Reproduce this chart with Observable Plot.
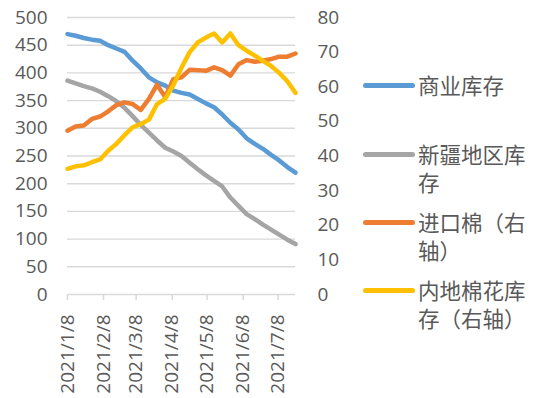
<!DOCTYPE html>
<html>
<head>
<meta charset="utf-8">
<script src="https://cdn.jsdelivr.net/npm/d3@7"></script>
<script src="https://cdn.jsdelivr.net/npm/@observablehq/plot@0.6"></script>
<style>
  html, body { margin: 0; padding: 0; background: #fff; }
  #wrap { position: relative; width: 550px; height: 398px; overflow: hidden; }
  #chart { position: absolute; left: 0; top: 0; }
  .leg { position: absolute; left: 363px; display: flex; align-items: flex-start; }
  .leg .sw { width: 52px; height: 5px; border-radius: 3px; margin-top: 12px; flex: none; }
  .leg .tx { margin-left: 3px; width: 116px; font-family: "Noto Sans CJK SC", sans-serif; font-size: 21.5px; line-height: 28px; color: #595959; word-break: break-all; }
</style>
</head>
<body>
<div id="wrap">
  <div id="chart"></div>
  <div id="legend"></div>
</div>
<script>
// Weekly dates
const dates = ["2021-01-08","2021-01-15","2021-01-22","2021-01-29","2021-02-05","2021-02-12","2021-02-19","2021-02-26",
  "2021-03-05","2021-03-12","2021-03-19","2021-03-26","2021-04-02","2021-04-09","2021-04-16","2021-04-23","2021-04-30",
  "2021-05-07","2021-05-14","2021-05-21","2021-05-28","2021-06-04","2021-06-11","2021-06-18","2021-06-25",
  "2021-07-02","2021-07-09","2021-07-16","2021-07-23"];
// 商业库存 (left axis)
const commercial = [470,467,463,460,458,450,444,438,422,408,392,383,377,368,364,361,353,345,338,325,310,298,282,272,263,252,242,230,220];
// 新疆地区库存 (left axis)
const xinjiang = [386,381,376,372,366,358,349,337,322,306,292,278,265,258,250,238,226,215,205,195,175,160,145,136,126,117,108,99,91];
// 进口棉 (right axis)
const imported = [47.3,48.5,48.8,50.7,51.4,52.9,54.7,55.5,55.0,53.3,56.5,60.6,57.0,62.2,62.7,64.9,64.8,64.6,65.6,64.8,63.2,66.5,67.7,67.2,67.5,68.0,68.7,68.7,69.6];
// 内地棉花库存 (right axis)
const inland = [36.3,37.0,37.3,38.2,39.0,41.5,43.5,46.0,48.3,49.2,50.5,55.0,56.5,60.5,65.5,70.0,72.8,74.2,75.4,72.8,75.4,72.0,70.4,69.0,67.5,66.0,64.0,61.6,58.2];

const seriesNames = ["商业库存","新疆地区库存","进口棉（右轴）","内地棉花库存（右轴）"];
const seriesColors = ["#5B9BD5","#A5A5A5","#ED7D31","#FFC000"];
const leftTicks = [0,50,100,150,200,250,300,350,400,450,500];
const rightTicks = [0,10,20,30,40,50,60,70,80];
const xTickDates = ["2021-01-08","2021-02-08","2021-03-08","2021-04-08","2021-05-08","2021-06-08","2021-07-08"];
const xTickLabels = ["2021/1/8","2021/2/8","2021/3/8","2021/4/8","2021/5/8","2021/6/8","2021/7/8"];

const ratio = 500 / 80; // right axis mapped onto left
const parse = d3.utcParse("%Y-%m-%d");
const dd = dates.map(parse);
const rows = [];
const seriesVals = [commercial, xinjiang, imported, inland];
seriesVals.forEach((vals, k) => {
  vals.forEach((v, i) => rows.push({date: dd[i], value: k >= 2 ? v * ratio : v, s: seriesNames[k]}));
});
const tickD = xTickDates.map(parse);
const labelOf = new Map(tickD.map((d, i) => [+d, xTickLabels[i]]));

const font = "'Open Sans', sans-serif";
const chart = Plot.plot({
  width: 360,
  height: 398,
  marginLeft: 67,
  marginRight: 65,
  marginTop: 17,
  marginBottom: 104,
  style: {fontFamily: font, fontSize: "19px", color: "#595959", background: "transparent"},
  x: {type: "utc", domain: [dd[0], dd[dd.length - 1]]},
  y: {domain: [0, 500]},
  color: {domain: seriesNames, range: seriesColors},
  marks: [
    Plot.ruleY(leftTicks.slice(1), {stroke: "#d9d9d9", strokeWidth: 1.4}),
    Plot.ruleY([0], {stroke: "#d9d9d9", strokeWidth: 1.6}),
    Plot.axisY({anchor: "left", ticks: leftTicks, tickSize: 0, tickPadding: 20, label: null, fill: "#595959"}),
    Plot.axisY({anchor: "right", ticks: rightTicks.map(t => t * ratio), tickFormat: d => String(Math.round(d / ratio)), tickSize: 0, tickPadding: 22, label: null, fill: "#595959"}),
    Plot.axisX({ticks: tickD, tickFormat: d => labelOf.get(+d), tickSize: 6, tickPadding: 14, tickRotate: -90, label: null, stroke: "#d9d9d9", strokeWidth: 1.5, fill: "#595959"}),
    Plot.line(rows, {x: "date", y: "value", z: "s", stroke: "s", strokeWidth: 4.5, strokeLinejoin: "round", strokeLinecap: "round"})
  ]
});
document.getElementById("chart").appendChild(chart);

const legendTops = [71, 140, 208, 276];
const leg = document.getElementById("legend");
seriesNames.forEach((n, i) => {
  const item = document.createElement("div");
  item.className = "leg";
  item.style.top = legendTops[i] + "px";
  const sw = document.createElement("div");
  sw.className = "sw";
  sw.style.background = seriesColors[i];
  const tx = document.createElement("div");
  tx.className = "tx";
  tx.textContent = n;
  item.appendChild(sw);
  item.appendChild(tx);
  leg.appendChild(item);
});
</script>
</body>
</html>
